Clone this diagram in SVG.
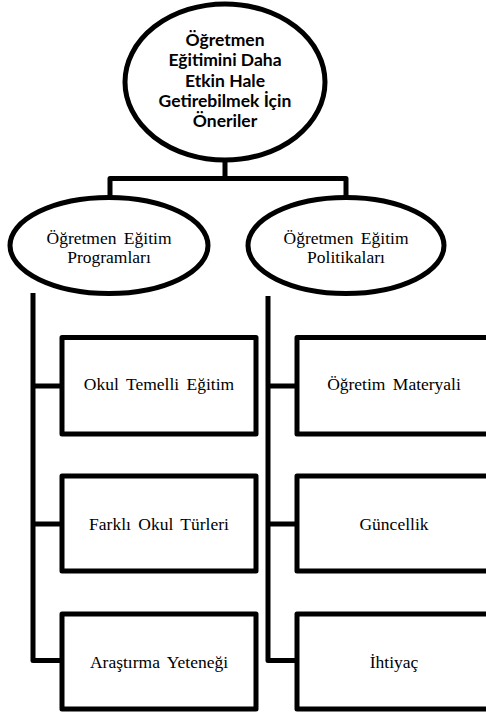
<svg xmlns="http://www.w3.org/2000/svg" width="486" height="717" viewBox="0 0 486 717">
  <style>
    .shape { fill: #ffffff; stroke: #000000; stroke-width: 5; }
    .box { fill: #ffffff; stroke: #000000; stroke-width: 5; stroke-linejoin: round; }
    .wire { fill: none; stroke: #000000; stroke-width: 5; stroke-linejoin: round; }
    .title { font-family: Lato, "Liberation Sans", sans-serif; font-weight: bold; font-size: 17.5px; text-anchor: middle; fill: #000000; }
    .label { font-family: "Liberation Serif", "DejaVu Serif", serif; font-size: 17.5px; text-anchor: middle; fill: #000000; word-spacing: 3px; }
  </style>

  <rect width="486" height="717" fill="#ffffff"/>

  <!-- connectors -->
  <g id="connectors">
    <path class="wire" d="M225 160 V178.5 M110 196 V178.5 H346 V198"/>
    <path class="wire" d="M33 293 V660.5 H62 M33 386 H62 M33 524 H62"/>
    <path class="wire" d="M268 296 V660.5 H297 M268 386 H297 M268 524 H297"/>
  </g>

  <!-- root -->
  <g id="root">
    <ellipse class="shape" cx="225" cy="82" rx="100" ry="78"/>
    <text class="title" x="225" y="45.5">Öğretmen</text>
    <text class="title" x="225" y="66">Eğitimini Daha</text>
    <text class="title" x="225" y="86.5">Etkin Hale</text>
    <text class="title" x="225" y="106.5">Getirebilmek İçin</text>
    <text class="title" x="225" y="126.5">Öneriler</text>
  </g>

  <!-- branches -->
  <g id="programs">
    <ellipse class="shape" cx="109" cy="245.5" rx="99" ry="48"/>
    <text class="label" x="109" y="244">Öğretmen Eğitim</text>
    <text class="label" x="109" y="262.5">Programları</text>
  </g>
  <g id="policies">
    <ellipse class="shape" cx="346" cy="245.5" rx="98" ry="48"/>
    <text class="label" x="346" y="244">Öğretmen Eğitim</text>
    <text class="label" x="346" y="262.5">Politikaları</text>
  </g>

  <!-- program items -->
  <g id="school-based">
    <rect class="box" x="62" y="337.5" width="194" height="96.5"/>
    <text class="label" x="159" y="390">Okul Temelli Eğitim</text>
  </g>
  <g id="school-types">
    <rect class="box" x="62" y="476" width="194" height="95"/>
    <text class="label" x="159" y="530">Farklı Okul Türleri</text>
  </g>
  <g id="research">
    <rect class="box" x="62" y="614" width="194" height="95"/>
    <text class="label" x="159" y="668" word-spacing="6">Araştırma Yeteneği</text>
  </g>

  <!-- policy items -->
  <g id="materials">
    <rect class="box" x="297" y="337.5" width="195" height="96.5"/>
    <text class="label" x="394" y="390">Öğretim Materyali</text>
  </g>
  <g id="currency">
    <rect class="box" x="297" y="476" width="195" height="95"/>
    <text class="label" x="394" y="530">Güncellik</text>
  </g>
  <g id="need">
    <rect class="box" x="297" y="614" width="195" height="95"/>
    <text class="label" x="394" y="668">İhtiyaç</text>
  </g>
</svg>
